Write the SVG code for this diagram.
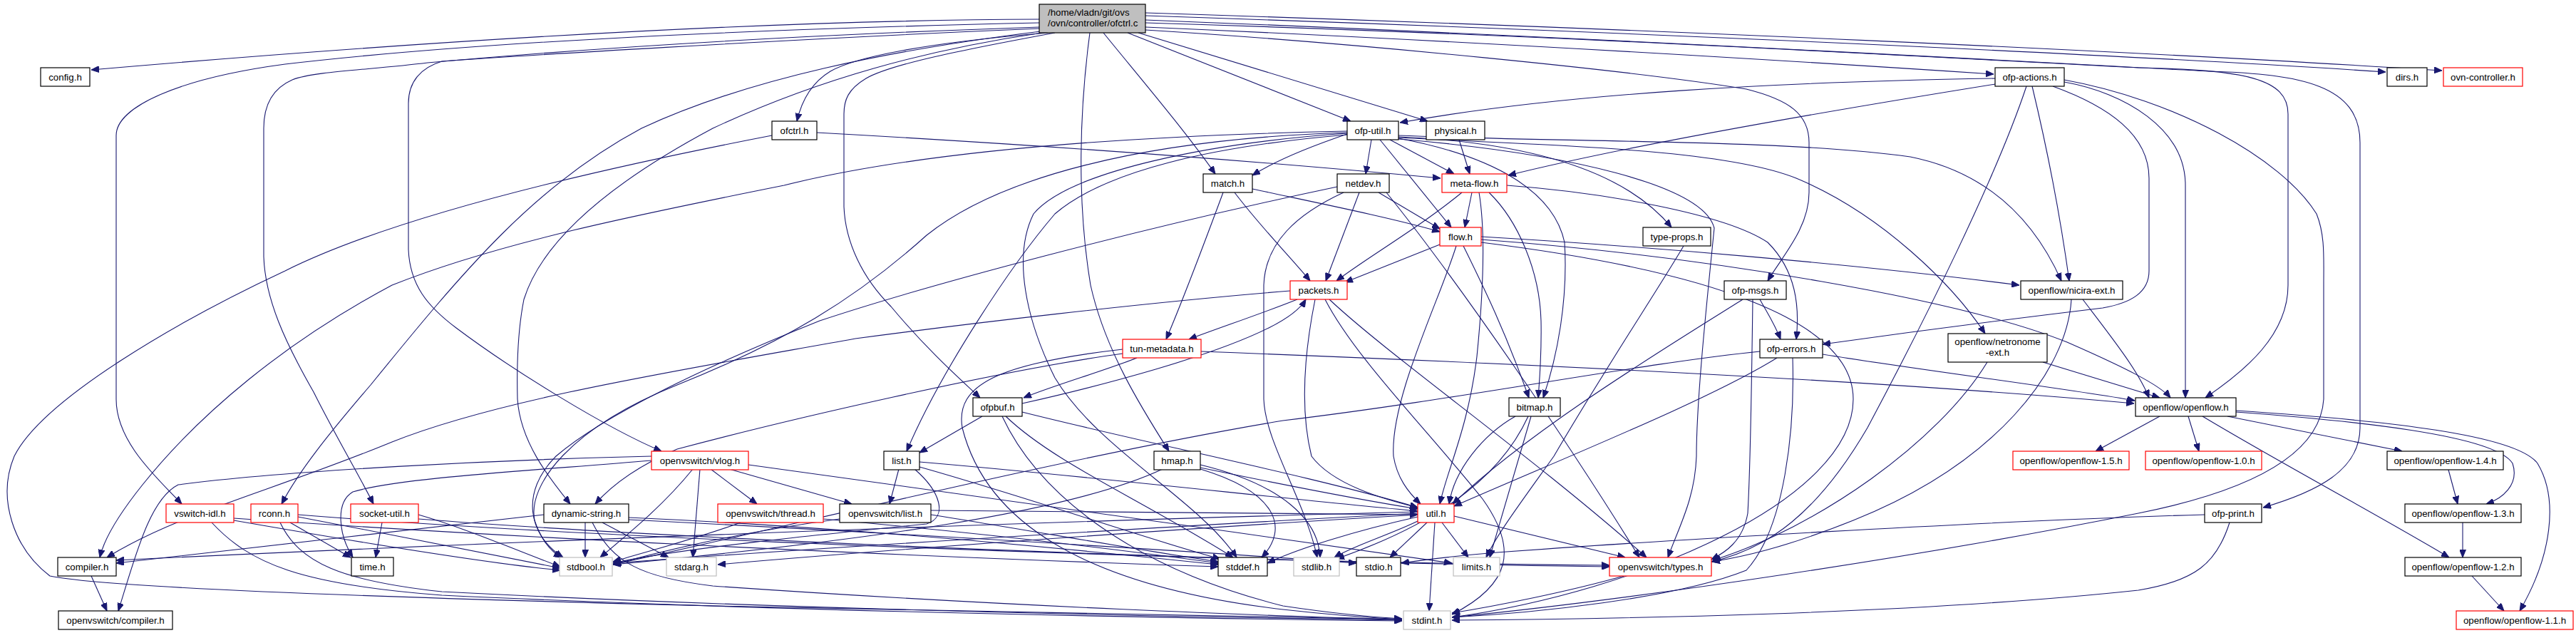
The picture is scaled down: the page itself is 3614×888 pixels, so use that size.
<svg xmlns="http://www.w3.org/2000/svg" width="3614" height="888" viewBox="0 0 3614 888">
<style>
rect{fill:#fff;stroke:#000;stroke-width:1.2}
.r rect{stroke:#ff0000}
.g rect{stroke:#bfbfbf}
.m rect{fill:#bfbfbf}
text{font-family:"Liberation Sans",Arial,Helvetica,sans-serif;font-size:13.3px;fill:#000;text-anchor:middle}
.m text{text-anchor:start}
#edges path{fill:none;stroke:#191970;stroke-width:1.1;marker-end:url(#a)}
</style>
<defs>
<marker id="a" markerWidth="11" markerHeight="9" refX="11" refY="4.5" orient="auto" markerUnits="userSpaceOnUse"><path d="M0,0 L11,4.5 L0,9 z" fill="#191970" stroke="#191970"/></marker>
</defs>
<rect x="0" y="0" width="3614" height="888" style="fill:#fff;stroke:none"/>
<g id="edges">
<path d="M1458,27 C1200,28 800,40 128,98"/>
<path d="M1458,32 C1100,40 700,55 400,90 C250,110 163,150 163,190 L163,560 C163,620 220,670 255,707"/>
<path d="M1458,38 C1100,50 800,70 600,88 C520,98 440,100 410,112 C380,125 370,150 370,180 L370,360 C372,420 400,480 440,550 C470,610 500,660 524,707"/>
<path d="M1458,40 C1100,55 700,80 620,86 C590,95 573,115 573,145 L573,350 C575,400 600,430 640,460 C720,520 850,600 928,633"/>
<path d="M1460,44 C1250,70 1050,110 900,180 C750,260 650,380 520,540 C460,610 420,660 395,707"/>
<path d="M1462,46 C1300,70 1150,110 1000,180 C850,260 760,340 735,420 C725,470 725,520 726,560 C730,620 770,670 800,707"/>
<path d="M1470,46 C1300,60 1200,80 1165,100 C1140,115 1125,140 1118,170"/>
<path d="M1480,46 C1350,70 1250,90 1215,110 C1190,125 1184,140 1184,160 L1184,290 C1186,340 1210,390 1250,430 C1300,490 1345,530 1375,558"/>
<path d="M1548,46 C1600,110 1660,180 1705,244"/>
<path d="M1529,46 C1515,150 1510,280 1530,400 C1550,490 1600,570 1640,633"/>
<path d="M1582,46 L1895,170"/>
<path d="M1597,46 L2003,170"/>
<path d="M1607,38 C2000,55 2400,78 2797,104"/>
<path d="M1607,22 C2300,45 3000,78 3347,101"/>
<path d="M1607,18 C2300,40 3000,72 3426,99"/>
<path d="M1607,32 C2200,50 2700,80 3000,95 C3150,98 3210,110 3210,160 L3210,400 C3210,470 3150,520 3094,558"/>
<path d="M1607,28 C2300,55 2900,90 3100,100 C3230,104 3311,120 3311,200 L3311,600 C3311,660 3250,690 3175,712"/>
<path d="M1607,42 C1900,60 2300,100 2450,125 C2510,140 2538,160 2538,200 L2538,270 C2538,320 2500,360 2480,394"/>
<path d="M1146,186 C1400,200 1700,220 2021,250"/>
<path d="M1083,190 C850,235 560,300 400,380 C250,450 60,560 20,640 C-5,700 20,770 70,808 C150,825 600,840 1000,850 C1500,862 1800,868 1967,869"/>
<path d="M1890,188 C1840,205 1790,225 1757,246"/>
<path d="M1924,196 L1916,244"/>
<path d="M1950,196 L2040,244"/>
<path d="M1936,196 L2036,319"/>
<path d="M1962,192 C2150,200 2280,240 2345,319"/>
<path d="M1962,194 C2100,220 2180,270 2195,340 C2200,420 2185,500 2165,558"/>
<path d="M1962,190 C2200,200 2500,195 2680,220 C2780,240 2850,300 2892,394"/>
<path d="M1962,193 C2200,205 2420,210 2520,250 C2640,300 2740,400 2785,468"/>
<path d="M1962,195 C2200,215 2390,260 2405,320 C2395,420 2380,560 2380,640 C2378,700 2355,740 2340,782"/>
<path d="M1890,184 C1600,190 1300,210 1100,260 C900,300 700,340 550,400 C400,480 280,580 200,680 C160,730 145,760 140,782"/>
<path d="M1890,186 C1600,195 1400,250 1300,330 C1200,420 1100,480 950,540 C800,600 740,680 750,730 C760,760 775,775 788,782"/>
<path d="M1890,187 C1700,200 1500,240 1450,300 C1420,360 1440,450 1480,530 C1540,630 1680,700 1735,782"/>
<path d="M1890,189 C1700,205 1550,240 1480,300 C1420,370 1320,520 1272,633"/>
<path d="M2047,196 L2062,244"/>
<path d="M1757,265 C1850,285 1950,305 2020,325"/>
<path d="M1732,270 C1770,320 1810,360 1838,394"/>
<path d="M1716,270 C1690,340 1660,420 1636,476"/>
<path d="M1934,270 L2020,321"/>
<path d="M1907,270 L1860,394"/>
<path d="M1945,270 C2050,400 2200,620 2300,782"/>
<path d="M1876,262 C1600,320 1300,400 1150,450 C1000,510 850,580 780,640 C730,690 740,750 790,782"/>
<path d="M1885,270 C1820,300 1775,340 1773,400 L1773,560 C1775,620 1830,700 1848,782"/>
<path d="M2065,270 L2055,319"/>
<path d="M2051,270 C1990,320 1920,360 1875,394"/>
<path d="M2075,270 C2085,330 2080,420 2072,500 C2060,600 2030,660 2020,707"/>
<path d="M2089,270 C2130,310 2160,380 2162,450 C2163,500 2160,530 2158,558"/>
<path d="M2114,260 C2250,270 2420,300 2480,340 C2520,380 2525,430 2520,476"/>
<path d="M2020,343 L1887,396"/>
<path d="M2043,345 C2020,420 1950,560 1955,640 C1960,670 1975,690 1993,707"/>
<path d="M2053,345 C2080,400 2110,460 2145,558"/>
<path d="M2078,332 C2300,345 2600,370 2833,400"/>
<path d="M2078,336 C2400,360 2750,420 2900,480 C2980,515 3030,540 3045,558"/>
<path d="M2078,340 C2400,380 2600,450 2600,560 C2600,700 2300,830 2037,866"/>
<path d="M2362,345 C2330,400 2250,520 2180,640 C2130,710 2100,750 2085,782"/>
<path d="M1820,420 C1770,440 1710,460 1668,476"/>
<path d="M1845,420 C1835,470 1820,560 1840,640 C1870,680 1940,700 1989,712"/>
<path d="M1859,420 C1900,500 2000,600 2080,700 C2130,770 2120,820 2037,862"/>
<path d="M1865,420 C1950,500 2150,640 2310,782"/>
<path d="M1810,408 C1600,425 1350,455 1200,475 C950,520 700,560 550,620 C380,690 250,720 150,782"/>
<path d="M1434,566 C1550,540 1700,500 1780,460 C1810,445 1825,432 1832,420"/>
<path d="M1378,584 L1290,635"/>
<path d="M1434,578 C1600,620 1850,670 1989,712"/>
<path d="M1411,584 C1480,650 1600,700 1730,782"/>
<path d="M1406,584 C1460,700 1600,800 1800,850 C1880,862 1930,866 1967,868"/>
<path d="M1595,502 C1550,520 1480,540 1436,558"/>
<path d="M1685,493 C2000,505 2600,530 2994,566"/>
<path d="M1575,496 C1400,520 1100,590 950,630 C880,660 850,690 835,707"/>
<path d="M1575,490 C1400,510 1340,540 1350,600 C1380,720 1500,820 1800,855 C1880,864 1930,867 1967,869"/>
<path d="M2799,110 C2500,115 2200,130 1964,172"/>
<path d="M2799,118 C2600,150 2300,200 2116,246"/>
<path d="M2843,121 C2800,250 2700,450 2620,600 C2550,720 2480,770 2401,788"/>
<path d="M2851,121 C2870,200 2890,300 2903,394"/>
<path d="M2880,121 C2960,150 3015,190 3015,250 L3015,380 C3015,410 2990,425 2950,432 C2800,450 2650,470 2557,483"/>
<path d="M2896,115 C2980,130 3066,180 3066,260 L3066,558"/>
<path d="M2896,112 C3050,140 3200,220 3250,300 C3262,330 3260,360 3260,400 L3260,560 C3255,640 3150,690 3000,720 C2700,780 2300,840 2037,866"/>
<path d="M2469,420 C2480,440 2490,455 2498,476"/>
<path d="M2445,420 C2350,480 2150,600 2038,707"/>
<path d="M2459,420 C2458,500 2456,650 2452,720 C2445,760 2420,775 2401,785"/>
<path d="M2557,497 C2700,520 2900,545 2995,562"/>
<path d="M2493,502 C2400,560 2200,640 2040,710"/>
<path d="M2515,502 C2518,600 2505,740 2450,800 C2350,840 2150,860 2037,866"/>
<path d="M2469,493 C2300,510 2050,560 1800,590 C1500,640 1100,740 860,792"/>
<path d="M2866,508 L3030,558"/>
<path d="M2788,508 C2720,620 2550,740 2403,786"/>
<path d="M2922,420 C2960,470 3000,520 3015,558"/>
<path d="M2906,420 C2900,520 2800,650 2600,730 C2500,770 2440,782 2402,788"/>
<path d="M3030,584 L2940,633"/>
<path d="M3070,584 L3085,633"/>
<path d="M3125,584 L3370,633"/>
<path d="M3137,578 C3300,590 3500,610 3525,650 C3535,680 3510,700 3488,707"/>
<path d="M3090,584 C3200,650 3350,730 3436,782"/>
<path d="M3137,576 C3350,590 3530,610 3560,650 C3590,700 3580,780 3535,857"/>
<path d="M3435,659 L3448,707"/>
<path d="M3455,733 L3455,782"/>
<path d="M3468,808 L3513,857"/>
<path d="M3093,722 C2800,730 2300,760 2100,775 C2040,780 2000,785 1966,790"/>
<path d="M3128,733 C3110,790 3080,815 3000,828 C2700,860 2300,868 2037,870"/>
<path d="M972,658 C930,710 880,750 842,782"/>
<path d="M982,658 L972,782"/>
<path d="M997,658 L1062,707"/>
<path d="M1023,658 L1195,707"/>
<path d="M1050,652 C1300,690 1700,740 2037,790"/>
<path d="M914,640 C700,645 400,660 250,680 C210,700 190,780 166,857"/>
<path d="M914,646 C750,660 560,670 495,690 C470,705 475,750 495,782"/>
<path d="M1039,733 C980,755 920,770 860,788"/>
<path d="M1155,728 C1400,750 1600,775 1709,790"/>
<path d="M1178,728 C1050,745 940,770 860,792"/>
<path d="M1306,722 C1450,745 1600,772 1709,788"/>
<path d="M1306,716 C1600,720 1850,722 1989,722"/>
<path d="M1261,658 L1248,707"/>
<path d="M1290,648 C1550,670 1800,700 1989,717"/>
<path d="M1290,655 C1450,700 1620,760 1712,784"/>
<path d="M1283,658 C1320,690 1330,725 1300,735 C1150,750 950,770 860,790"/>
<path d="M1684,656 C1800,680 1900,700 1989,714"/>
<path d="M1684,658 C1790,690 1810,740 1770,782"/>
<path d="M1631,658 C1500,720 1200,760 860,792"/>
<path d="M1684,652 C1800,680 1850,730 1852,782"/>
<path d="M821,733 L821,782"/>
<path d="M845,733 L938,782"/>
<path d="M882,726 C1200,740 1500,770 1709,792"/>
<path d="M831,733 C860,790 900,810 1000,822 C1400,850 1800,865 1967,869"/>
<path d="M882,729 C1300,750 1700,775 1903,790"/>
<path d="M763,722 C600,740 300,775 163,790"/>
<path d="M2023,733 L2060,782"/>
<path d="M2013,733 L2005,857"/>
<path d="M2002,733 L1950,782"/>
<path d="M1989,731 C1950,750 1900,765 1872,782"/>
<path d="M2040,724 L2280,782"/>
<path d="M1989,720 C1700,735 1200,765 860,790"/>
<path d="M1989,725 C1900,745 1820,770 1778,790"/>
<path d="M1989,722 C1600,745 1200,775 1007,792"/>
<path d="M1989,718 C1500,730 700,760 163,786"/>
<path d="M2126,584 C2080,610 2040,660 2033,707"/>
<path d="M2148,584 L2090,782"/>
<path d="M2144,584 C2100,680 2000,740 1875,784"/>
<path d="M536,733 L527,782"/>
<path d="M587,722 C650,740 720,770 786,795"/>
<path d="M587,728 C1000,760 1800,790 2258,795"/>
<path d="M407,733 L492,782"/>
<path d="M393,733 C420,790 480,815 620,830 C1100,855 1700,866 1967,870"/>
<path d="M418,725 C550,750 700,780 786,797"/>
<path d="M418,722 C900,760 1800,790 2258,793"/>
<path d="M328,730 C500,760 680,790 786,800"/>
<path d="M328,727 C800,760 1400,785 1709,795"/>
<path d="M297,733 C350,790 420,820 620,835 C1100,858 1700,868 1967,871"/>
<path d="M128,808 L150,857"/>
<path d="M2278,808 C2200,830 2100,850 2037,860"/>
</g>
<g id="n_main" class="m"><rect x="1458" y="6" width="149" height="40"/><text x="1470" y="22">/home/vladn/git/ovs</text><text x="1470" y="37">/ovn/controller/ofctrl.c</text></g>
<g id="n_config"><rect x="57" y="95" width="69" height="26"/><text x="91.5" y="113">config.h</text></g>
<g id="n_ofctrl"><rect x="1083" y="170" width="63" height="26"/><text x="1114.5" y="188">ofctrl.h</text></g>
<g id="n_ofputil"><rect x="1890" y="170" width="72" height="26"/><text x="1926" y="188">ofp-util.h</text></g>
<g id="n_physical"><rect x="2001" y="170" width="82" height="26"/><text x="2042" y="188">physical.h</text></g>
<g id="n_match"><rect x="1688" y="244" width="69" height="26"/><text x="1722.5" y="262">match.h</text></g>
<g id="n_netdev"><rect x="1876" y="244" width="73" height="26"/><text x="1912.5" y="262">netdev.h</text></g>
<g id="n_metaflow" class="r"><rect x="2023" y="244" width="91" height="26"/><text x="2068.5" y="262">meta-flow.h</text></g>
<g id="n_flow" class="r"><rect x="2020" y="319" width="58" height="26"/><text x="2049" y="337">flow.h</text></g>
<g id="n_typeprops"><rect x="2305" y="319" width="95" height="26"/><text x="2352.5" y="337">type-props.h</text></g>
<g id="n_packets" class="r"><rect x="1810" y="394" width="80" height="26"/><text x="1850" y="412">packets.h</text></g>
<g id="n_ofpactions"><rect x="2799" y="95" width="97" height="26"/><text x="2847.5" y="113">ofp-actions.h</text></g>
<g id="n_ofpmsgs"><rect x="2419" y="394" width="87" height="26"/><text x="2462.5" y="412">ofp-msgs.h</text></g>
<g id="n_nicira"><rect x="2835" y="394" width="143" height="26"/><text x="2906.5" y="412">openflow/nicira-ext.h</text></g>
<g id="n_dirs"><rect x="3349" y="95" width="56" height="26"/><text x="3377" y="113">dirs.h</text></g>
<g id="n_ovnctrl" class="r"><rect x="3428" y="95" width="111" height="26"/><text x="3483.5" y="113">ovn-controller.h</text></g>
<g id="n_vswitchidl" class="r"><rect x="233" y="707" width="95" height="26"/><text x="280.5" y="725">vswitch-idl.h</text></g>
<g id="n_rconn" class="r"><rect x="352" y="707" width="66" height="26"/><text x="385" y="725">rconn.h</text></g>
<g id="n_socketutil" class="r"><rect x="492" y="707" width="95" height="26"/><text x="539.5" y="725">socket-util.h</text></g>
<g id="n_compiler"><rect x="81" y="782" width="82" height="26"/><text x="122" y="800">compiler.h</text></g>
<g id="n_time"><rect x="493" y="782" width="59" height="26"/><text x="522.5" y="800">time.h</text></g>
<g id="n_ovscompiler"><rect x="82" y="857" width="160" height="26"/><text x="162" y="875">openvswitch/compiler.h</text></g>
<g id="n_vlog" class="r"><rect x="914" y="633" width="136" height="26"/><text x="982" y="651">openvswitch/vlog.h</text></g>
<g id="n_dynstr"><rect x="763" y="707" width="119" height="26"/><text x="822.5" y="725">dynamic-string.h</text></g>
<g id="n_thread" class="r"><rect x="1007" y="707" width="148" height="26"/><text x="1081" y="725">openvswitch/thread.h</text></g>
<g id="n_ovslist"><rect x="1178" y="707" width="128" height="26"/><text x="1242" y="725">openvswitch/list.h</text></g>
<g id="n_stdbool" class="g"><rect x="785" y="782" width="74" height="26"/><text x="822" y="800">stdbool.h</text></g>
<g id="n_stdarg" class="g"><rect x="935" y="782" width="70" height="26"/><text x="970" y="800">stdarg.h</text></g>
<g id="n_tunmeta" class="r"><rect x="1575" y="476" width="110" height="26"/><text x="1630" y="494">tun-metadata.h</text></g>
<g id="n_ofpbuf"><rect x="1365" y="558" width="69" height="26"/><text x="1399.5" y="576">ofpbuf.h</text></g>
<g id="n_list"><rect x="1240" y="633" width="50" height="26"/><text x="1265" y="651">list.h</text></g>
<g id="n_hmap"><rect x="1619" y="633" width="65" height="26"/><text x="1651.5" y="651">hmap.h</text></g>
<g id="n_stddef"><rect x="1709" y="782" width="69" height="26"/><text x="1743.5" y="800">stddef.h</text></g>
<g id="n_stdlib" class="g"><rect x="1815" y="782" width="64" height="26"/><text x="1847" y="800">stdlib.h</text></g>
<g id="n_bitmap"><rect x="2117" y="558" width="72" height="26"/><text x="2153" y="576">bitmap.h</text></g>
<g id="n_util" class="r"><rect x="1989" y="707" width="51" height="26"/><text x="2014.5" y="725">util.h</text></g>
<g id="n_stdio"><rect x="1903" y="782" width="62" height="26"/><text x="1934" y="800">stdio.h</text></g>
<g id="n_limits" class="g"><rect x="2039" y="782" width="65" height="26"/><text x="2071.5" y="800">limits.h</text></g>
<g id="n_types" class="r"><rect x="2258" y="782" width="143" height="26"/><text x="2329.5" y="800">openvswitch/types.h</text></g>
<g id="n_stdint" class="g"><rect x="1969" y="857" width="66" height="26"/><text x="2002" y="875">stdint.h</text></g>
<g id="n_ofperrors"><rect x="2469" y="476" width="88" height="26"/><text x="2513" y="494">ofp-errors.h</text></g>
<g id="n_netronome"><rect x="2733" y="468" width="139" height="40"/><text x="2802.5" y="484">openflow/netronome</text><text x="2802.5" y="499">-ext.h</text></g>
<g id="n_openflow"><rect x="2996" y="558" width="141" height="26"/><text x="3066.5" y="576">openflow/openflow.h</text></g>
<g id="n_of15" class="r"><rect x="2824" y="633" width="163" height="26"/><text x="2905.5" y="651">openflow/openflow-1.5.h</text></g>
<g id="n_of10" class="r"><rect x="3010" y="633" width="163" height="26"/><text x="3091.5" y="651">openflow/openflow-1.0.h</text></g>
<g id="n_of14"><rect x="3349" y="633" width="163" height="26"/><text x="3430.5" y="651">openflow/openflow-1.4.h</text></g>
<g id="n_ofpprint"><rect x="3093" y="707" width="80" height="26"/><text x="3133" y="725">ofp-print.h</text></g>
<g id="n_of13"><rect x="3374" y="707" width="163" height="26"/><text x="3455.5" y="725">openflow/openflow-1.3.h</text></g>
<g id="n_of12"><rect x="3374" y="782" width="163" height="26"/><text x="3455.5" y="800">openflow/openflow-1.2.h</text></g>
<g id="n_of11" class="r"><rect x="3446" y="857" width="164" height="26"/><text x="3528" y="875">openflow/openflow-1.1.h</text></g>
</svg>
